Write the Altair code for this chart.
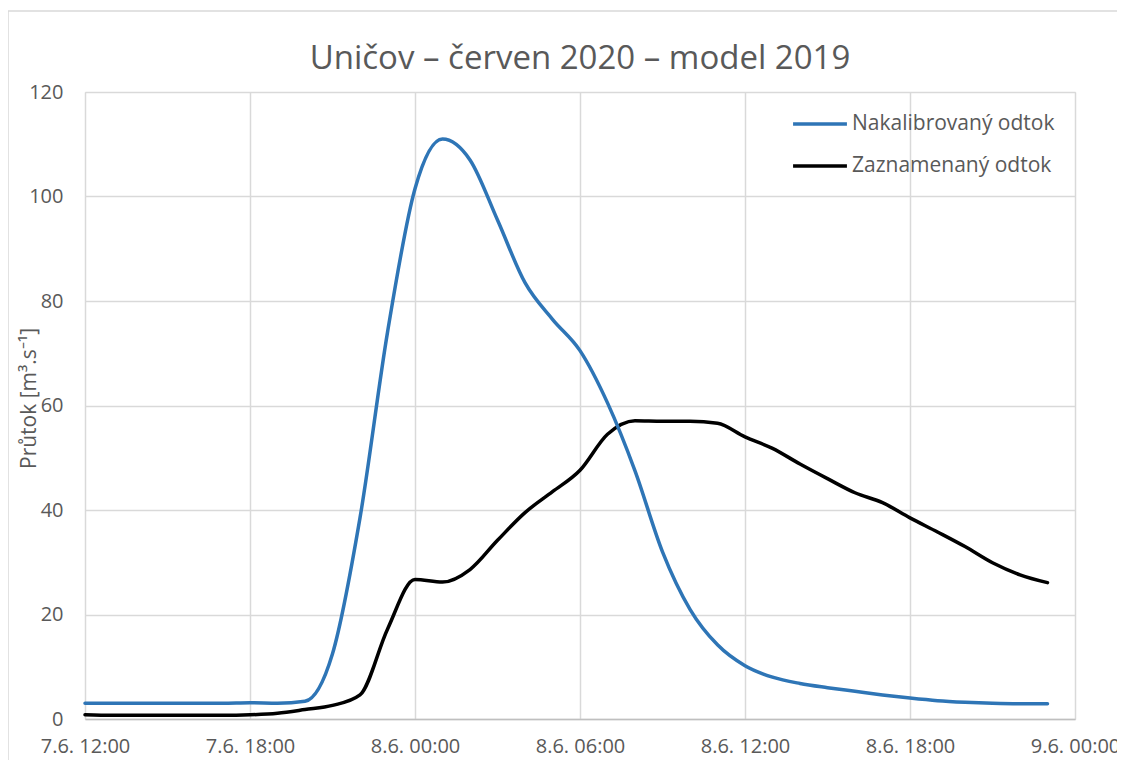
import altair as alt
import pandas as pd

# ---- data (hourly, 7.6.2020 12:00 .. 8.6.2020 23:00) ----
start = "2020-06-07 12:00"
n_hours = 36
series_names = ["Nakalibrovaný odtok", "Zaznamenaný odtok"]
series_colors = ["#2E75B6", "#000000"]

nakalibrovany = [3.0, 3.0, 3.0, 3.0, 3.0, 3.0, 3.1, 3.0, 3.4, 12.5,
                 38.5, 74.0, 101.5, 111.0, 107.0, 95.5, 83.5, 76.5, 70.5, 60.5,
                 47.5, 32.0, 21.0, 14.2, 10.2, 8.0, 6.8, 6.0, 5.3, 4.6,
                 4.0, 3.5, 3.2, 3.0, 2.9, 2.9]
zaznamenany = [0.8, 0.7, 0.7, 0.7, 0.7, 0.7, 0.8, 1.1, 1.8, 2.6,
               4.6, 17.2, 26.7, 26.2, 28.6, 34.2, 39.5, 43.5, 47.6, 54.5,
               57.1, 57.0, 57.0, 56.6, 54.0, 51.8, 48.8, 46.0, 43.3, 41.4,
               38.5, 35.8, 33.0, 29.9, 27.6, 26.1]

y_ticks = [0, 20, 40, 60, 80, 100, 120]
x_tick_days_hours = [(7, 12), (7, 18), (8, 0), (8, 6), (8, 12), (8, 18), (9, 0)]

times = pd.date_range(start, periods=n_hours, freq="h")
df = pd.concat([
    pd.DataFrame({"cas": times, "prutok": nakalibrovany, "rada": series_names[0]}),
    pd.DataFrame({"cas": times, "prutok": zaznamenany, "rada": series_names[1]}),
])

FONT = "Open Sans"
TXT = "#595959"
W, H = 990, 627
PAD = "\u00a0\u00a0\u00a0\u00a0"

x_values = [alt.DateTime(year=2020, month=6, date=d, hours=h) for d, h in x_tick_days_hours]

color = alt.Color(
    "rada:N",
    scale=alt.Scale(domain=series_names, range=series_colors),
    legend=alt.Legend(
        title=None, orient="none", legendX=706, legendY=3,
        symbolType="stroke", symbolSize=2900, symbolStrokeWidth=3.5,
        labelFont=FONT, labelFontSize=21, labelColor=TXT, labelLimit=400,
        labelOffset=3, rowPadding=3, padding=0,
    ),
)

x = alt.X(
    "cas:T",
    scale=alt.Scale(domain=[x_values[0], x_values[-1]]),
    axis=alt.Axis(values=x_values, format="%-d.%-m. %H:%M", title=None,
                  labelExpr=f"date(datum.value) == 9 ? datum.label + '{PAD}' : datum.label",
                  labelFont=FONT, labelFontSize=20, labelColor=TXT,
                  labelPadding=17, ticks=False, domain=True,
                  domainColor="#BFBFBF", domainWidth=1.5,
                  grid=True, gridColor="#D9D9D9", gridWidth=1.5,
                  labelOverlap=False, labelBound=False, labelFlush=False),
)
y = alt.Y(
    "prutok:Q",
    scale=alt.Scale(domain=[0, 120], nice=False),
    axis=alt.Axis(values=y_ticks, title="Průtok [m³.s⁻¹]",
                  labelFont=FONT, labelFontSize=20, labelColor=TXT,
                  labelPadding=22, ticks=False, domain=False,
                  grid=True, gridColor="#D9D9D9", gridWidth=1.5,
                  titleFont=FONT, titleFontSize=21, titleColor=TXT,
                  titleFontWeight="normal", titleAngle=-90,
                  titleX=-56, titleY=306, titleAlign="center",
                  titleBaseline="middle"),
)

base = alt.Chart(df)
black_line = base.transform_filter(alt.datum.rada == series_names[1]).mark_line(
    interpolate="monotone", strokeWidth=3.5, strokeCap="round"
).encode(x=x, y=y, color=color)
blue_line = base.transform_filter(alt.datum.rada == series_names[0]).mark_line(
    interpolate="monotone", strokeWidth=3.5, strokeCap="round"
).encode(x=x, y=y, color=color)

frame = alt.Chart(pd.DataFrame({"f": [0]})).mark_rect(
    fill=None, stroke="#D9D9D9", strokeWidth=1.5
).encode(x=alt.value(-77), x2=alt.value(1060), y=alt.value(-81), y2=alt.value(720))

chart = alt.layer(frame, black_line, blue_line).properties(
    width=W, height=H,
    title=alt.TitleParams("Uničov – červen 2020 – model 2019", font=FONT,
                          fontSize=33, fontWeight="normal", color=TXT,
                          anchor="middle", offset=16, dy=82),
    autosize=alt.AutoSizeParams(type="none"),
    padding={"left": 77, "top": 84, "right": 42, "bottom": 44},
).configure_view(stroke=None).configure(background="white")

chart.save("out.html", embed_options={"renderer": "svg", "actions": False})
